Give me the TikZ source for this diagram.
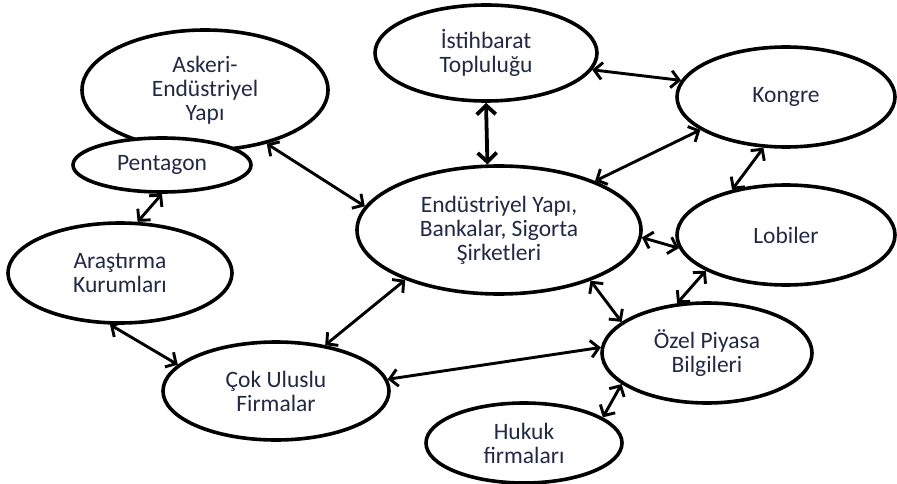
\documentclass[tikz,border=0pt]{standalone}
\usepackage{fontspec}
\setmainfont{Carlito}
\usetikzlibrary{shapes.geometric,arrows.meta}
\definecolor{yazi}{rgb}{0.13,0.16,0.27}

\begin{document}
\begin{tikzpicture}[x=1pt,y=-1pt]
    \tikzstyle{balon}=[ellipse,draw,line width=3.6pt,fill=white,inner sep=0pt,
      align=center,text=yazi,font=\fontsize{23.5}{24}\selectfont]
    \tikzstyle{ok}=[<->,>={Straight Barb[length=8pt,width=17pt]},line width=2.9pt]
  \useasboundingbox (0,0) rectangle (897,484);
  \node[balon,minimum width=246,minimum height=120] (askeri) at (205,90) {Askeri-\\Endüstriyel\\Yapı};
  \node[balon,minimum width=178,minimum height=54] (pentagon) at (162,165) {Pentagon};
  \node[balon,minimum width=222,minimum height=96] (istihbarat) at (486,53) {İstihbarat\\Topluluğu};
  \node[balon,minimum width=218,minimum height=100] (kongre) at (786,97) {Kongre};
  \node[balon,minimum width=218,minimum height=100] (lobiler) at (786,235) {Lobiler};
  \node[balon,minimum width=284,minimum height=128] (sanayi) at (499,230) {Endüstriyel Yapı,\\Bankalar, Sigorta\\Şirketleri};
  \node[balon,minimum width=224,minimum height=100] (arastirma) at (120,273) {Araştırma\\Kurumları};
  \node[balon,minimum width=226,minimum height=98] (cokuluslu) at (276,391) {Çok Uluslu\\Firmalar};
  \node[balon,minimum width=210,minimum height=100] (ozel) at (707,353) {Özel Piyasa\\Bilgileri};
  \node[balon,minimum width=196,minimum height=80] (hukuk) at (524,443) {Hukuk\\firmaları};

  \draw[ok] (askeri.-41) -- (sanayi.170);
  \draw[ok] (pentagon.-90) -- (arastirma.71);
  \draw[ok,line width=3.8pt,>={Straight Barb[length=9pt,width=19pt]}] (istihbarat.-90) -- (sanayi.100);
  \draw[ok] (istihbarat.-9) -- (kongre.171);
  \draw[ok] (sanayi.27) -- (kongre.-159);
  \draw[ok] (kongre.-114) -- (lobiler.140);
  \draw[ok] (sanayi.-3) -- (lobiler.-173);
  \draw[ok] (lobiler.-156) -- (ozel.121);
  \draw[ok] (sanayi.-29) -- (ozel.160);
  \draw[ok] (cokuluslu.6) -- (ozel.177);
  \draw[ok] (ozel.-160) -- (hukuk.18);
  \draw[ok] (arastirma.-101) -- (cokuluslu.165);
  \draw[ok] (cokuluslu.43) -- (sanayi.-152);
\end{tikzpicture}
\end{document}
